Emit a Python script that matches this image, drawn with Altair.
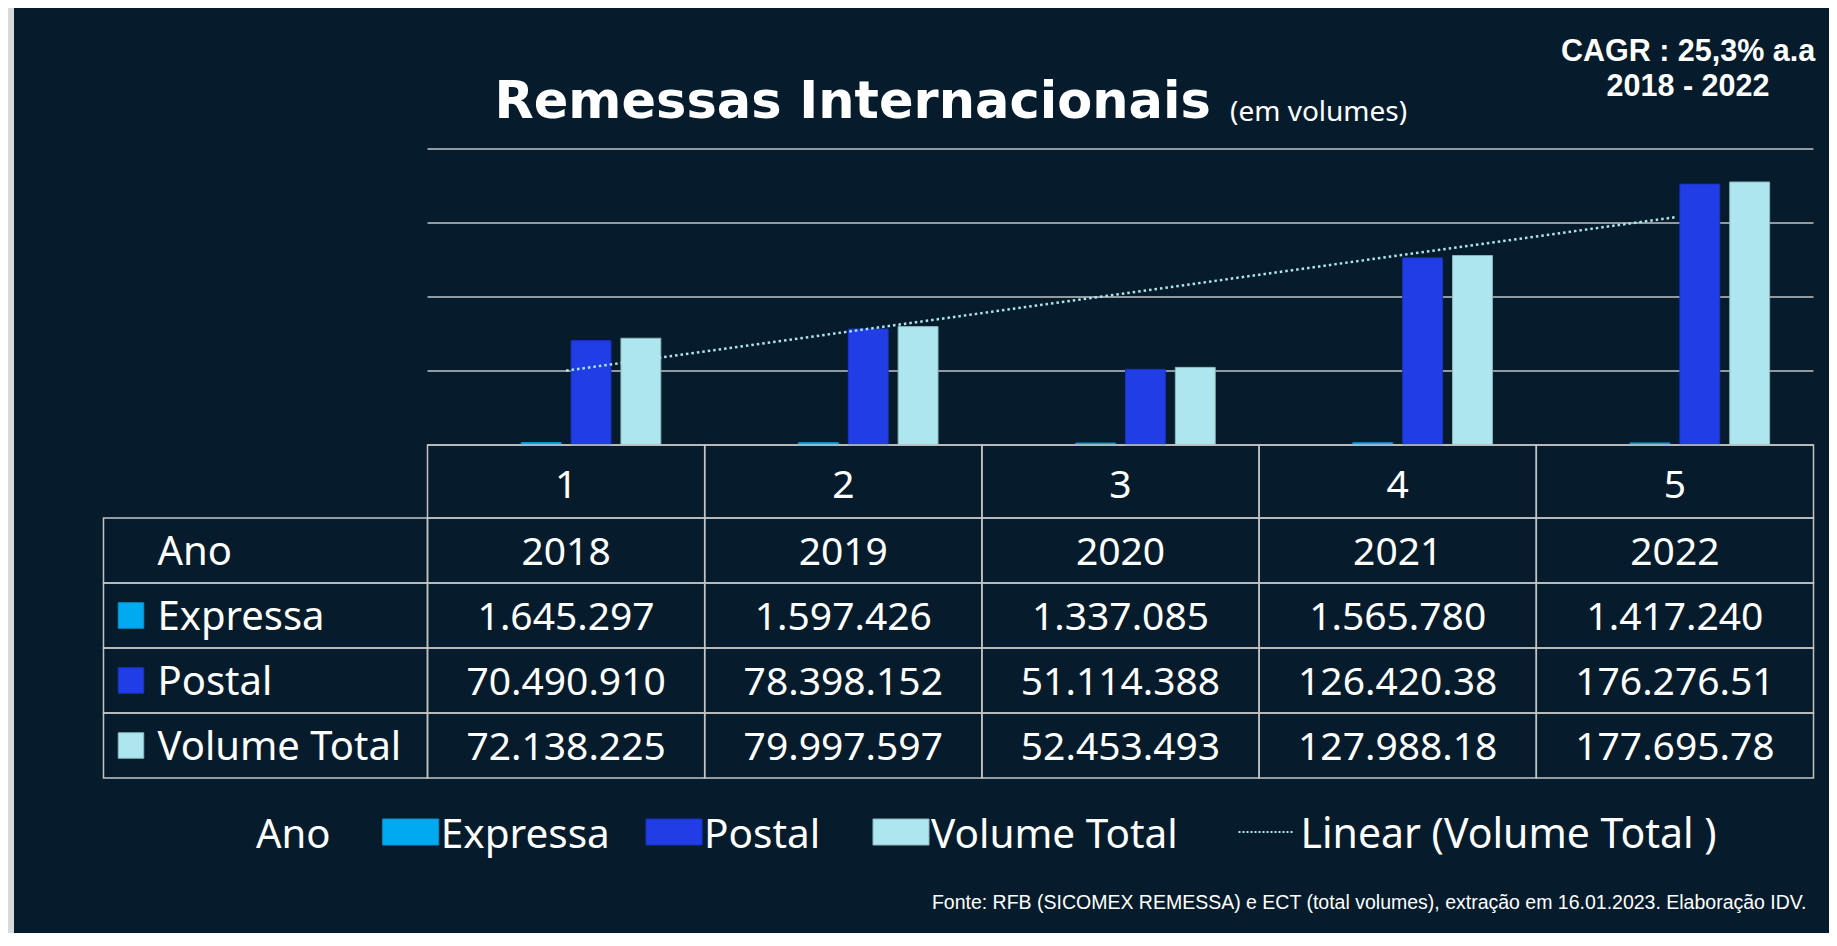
import altair as alt
import pandas as pd

# ---------------- data ----------------
years = [2018, 2019, 2020, 2021, 2022]
idx_labels = ["1", "2", "3", "4", "5"]
expressa = [1645297, 1597426, 1337085, 1565780, 1417240]
postal = [70490910, 78398152, 51114388, 126420380, 176276510]
volume_total = [72138225, 79997597, 52453493, 127988180, 177695780]
series = ["Expressa", "Postal", "Volume Total"]
row_names = ["Ano", "Expressa", "Postal", "Volume Total"]
grid_values = [0, 50e6, 100e6, 150e6, 200e6]

# ---------------- styles / layout ----------------
BG_DARK = "#061C2C"
BG_EDGE = "#D9D9D9"
LINE = "#C3C3C3"
TXT = "#FFFFFF"
series_colors = ["#00AAF0", "#203DE6", "#ADE6EE"]
series_strokes = ["#0890D0", "#1A33C2", "#8DB7BF"]
TFONT = "Noto Sans"
NSIZE = 39   # numbers in the table
LSIZE = 40   # labels
W, H = 1386, 296
PAD = {"left": 419.5, "top": 141, "right": 15.5, "bottom": 488}


def fmt(v):
    # pt-BR thousands separator, cut at 10 characters like the spreadsheet cells
    return f"{v:,}".replace(",", ".")[:10]


x_band = alt.Scale(domain=idx_labels, paddingInner=0, paddingOuter=0)
y_val = alt.Scale(domain=[0, 200e6], nice=False, zero=True)
y_rows = alt.Scale(domain=row_names, range=[369, 629], paddingInner=0, paddingOuter=0)
color_scale = alt.Scale(domain=series, range=series_colors)
stroke_scale = alt.Scale(domain=series, range=series_strokes)

layers = []

# dark panel
layers.append(
    alt.Chart(pd.DataFrame({"a": [0]})).mark_rect(color=BG_DARK).encode(
        x=alt.value(-413.5), x2=alt.value(W + PAD["right"]), y=alt.value(-PAD["top"]), y2=alt.value(H + PAD["bottom"])
    )
)

# gridlines
layers.append(
    alt.Chart(pd.DataFrame({"v": grid_values})).mark_rule(color=LINE, strokeWidth=1.5).encode(
        y=alt.Y("v:Q", scale=y_val, axis=None)
    )
)

# bars
bars_df = pd.DataFrame({
    "idx": idx_labels * 3,
    "series": [s for s in series for _ in idx_labels],
    "value": expressa + postal + volume_total,
})
layers.append(
    alt.Chart(bars_df).mark_bar(opacity=1, strokeWidth=1).encode(
        x=alt.X("idx:N", scale=x_band, axis=None),
        xOffset=alt.XOffset("series:N", scale=alt.Scale(domain=["Ano"] + series, paddingInner=0.2, paddingOuter=0.88)),
        y=alt.Y("value:Q", scale=y_val, axis=None, stack=None),
        color=alt.Color("series:N", scale=color_scale, legend=None),
        stroke=alt.Stroke("series:N", scale=stroke_scale, legend=None),
    )
)

# linear trend of Volume Total
trend_df = pd.DataFrame({"pos": list(range(1, len(idx_labels) + 1)), "total": volume_total})
layers.append(
    alt.Chart(trend_df).transform_regression("pos", "total", method="linear").mark_line(
        color="#ADE6EE", strokeDash=[2.5, 3], strokeWidth=2.5
    ).encode(
        x=alt.X("pos:Q", scale=alt.Scale(domain=[0.5, len(idx_labels) + 0.5], nice=False, zero=False), axis=None),
        y=alt.Y("total:Q", scale=y_val, axis=None),
    )
)

# ---------------- data table ----------------
cells = []
for i, lab in enumerate(idx_labels):
    cells.append({"idx": lab, "row": "Ano", "txt": str(years[i])})
    cells.append({"idx": lab, "row": "Expressa", "txt": fmt(expressa[i])})
    cells.append({"idx": lab, "row": "Postal", "txt": fmt(postal[i])})
    cells.append({"idx": lab, "row": "Volume Total", "txt": fmt(volume_total[i])})
table_df = pd.DataFrame(cells)

# axis row (category numbers)
idx_df = pd.DataFrame({"idx": idx_labels})
layers.append(
    alt.Chart(idx_df).mark_rect(fill="transparent", stroke=LINE, strokeWidth=1.5).encode(
        x=alt.X("idx:N", scale=x_band, axis=None), y=alt.value(296), y2=alt.value(369)
    )
)
layers.append(
    alt.Chart(idx_df).mark_text(font=TFONT, fontSize=NSIZE, color=TXT, baseline="alphabetic").encode(
        x=alt.X("idx:N", scale=x_band, axis=None), y=alt.value(349), text="idx:N"
    )
)

# value cells
layers.append(
    alt.Chart(table_df).mark_rect(fill="transparent", stroke=LINE, strokeWidth=1.5).encode(
        x=alt.X("idx:N", scale=x_band, axis=None), y=alt.Y("row:N", scale=y_rows, axis=None)
    )
)
layers.append(
    alt.Chart(table_df).mark_text(font=TFONT, fontSize=NSIZE, color=TXT, baseline="alphabetic", dy=14).encode(
        x=alt.X("idx:N", scale=x_band, axis=None), y=alt.Y("row:N", scale=y_rows, axis=None), text="txt:N"
    )
)

# header column
rows_df = pd.DataFrame({"row": row_names})
layers.append(
    alt.Chart(rows_df).mark_rect(fill="transparent", stroke=LINE, strokeWidth=1.5).encode(
        x=alt.value(-324), x2=alt.value(0), y=alt.Y("row:N", scale=y_rows, axis=None)
    )
)
layers.append(
    alt.Chart(rows_df).mark_text(font=TFONT, fontSize=LSIZE, color=TXT, baseline="alphabetic", align="left", dy=14).encode(
        x=alt.value(-270), y=alt.Y("row:N", scale=y_rows, axis=None), text="row:N"
    )
)
sw_df = pd.DataFrame({"row": series, "series": series})
layers.append(
    alt.Chart(sw_df).mark_square(size=26 * 25, opacity=1, filled=True, strokeWidth=1).encode(
        x=alt.value(-296.5), y=alt.Y("row:N", scale=y_rows, axis=None),
        color=alt.Color("series:N", scale=color_scale, legend=None),
        stroke=alt.Stroke("series:N", scale=stroke_scale, legend=None),
    )
)

# ---------------- legend ----------------
def text_layer(txt, x, y, font=TFONT, size=LSIZE, weight="normal", align="left"):
    return alt.Chart(pd.DataFrame({"t": [txt]})).mark_text(
        font=font, fontSize=size, fontWeight=weight, color=TXT, align=align, baseline="alphabetic"
    ).encode(x=alt.value(x), y=alt.value(y), text="t:N")


LEG_Y0, LEG_Y1, LEG_BASE = 670, 696, 699
layers.append(text_layer("Ano", -171.5, LEG_BASE))
legend_swatch_x = {"Expressa": -44.8, "Postal": 218.5, "Volume Total": 445.5}
for s in series:
    x0 = legend_swatch_x[s]
    layers.append(
        alt.Chart(pd.DataFrame({"series": [s]})).mark_rect(opacity=1, strokeWidth=1).encode(
            x=alt.value(x0), x2=alt.value(x0 + 56), y=alt.value(LEG_Y0), y2=alt.value(LEG_Y1),
            color=alt.Color("series:N", scale=color_scale, legend=None),
            stroke=alt.Stroke("series:N", scale=stroke_scale, legend=None),
        )
    )
    layers.append(text_layer(s, x0 + 58, LEG_BASE, size=40.5))
layers.append(
    alt.Chart(pd.DataFrame({"a": [0]})).mark_rule(color="#ADE6EE", strokeDash=[2, 2], strokeWidth=2).encode(
        x=alt.value(811), x2=alt.value(867), y=alt.value(683)
    )
)
layers.append(text_layer("Linear (Volume Total )", 873, LEG_BASE, size=41))

# ---------------- titles / notes ----------------
layers.append(text_layer("Remessas Internacionais", 67, -30.7, font="DejaVu Sans", size=51, weight="bold"))
layers.append(text_layer("(em volumes)", 802.5, -28, size=28))
layers.append(text_layer("CAGR : 25,3% a.a", 1260.5, -88.5, font="Liberation Sans", size=30.5, weight="bold", align="center"))
layers.append(text_layer("2018 - 2022", 1260.5, -53.5, font="Liberation Sans", size=30.5, weight="bold", align="center"))
layers.append(text_layer(
    "Fonte: RFB (SICOMEX REMESSA) e ECT (total volumes), extração em 16.01.2023. Elaboração IDV.",
    1379, 760, font="Liberation Sans", size=19.5, align="right"))

chart = alt.layer(*layers).resolve_scale(x="independent", y="independent").properties(
    width=W,
    height=H,
    padding=PAD,
    autosize=alt.AutoSizeParams(type="none"),
    background=BG_EDGE,
).configure_view(stroke="transparent")

chart.save("out.html", embed_options={"renderer": "svg", "actions": False})
